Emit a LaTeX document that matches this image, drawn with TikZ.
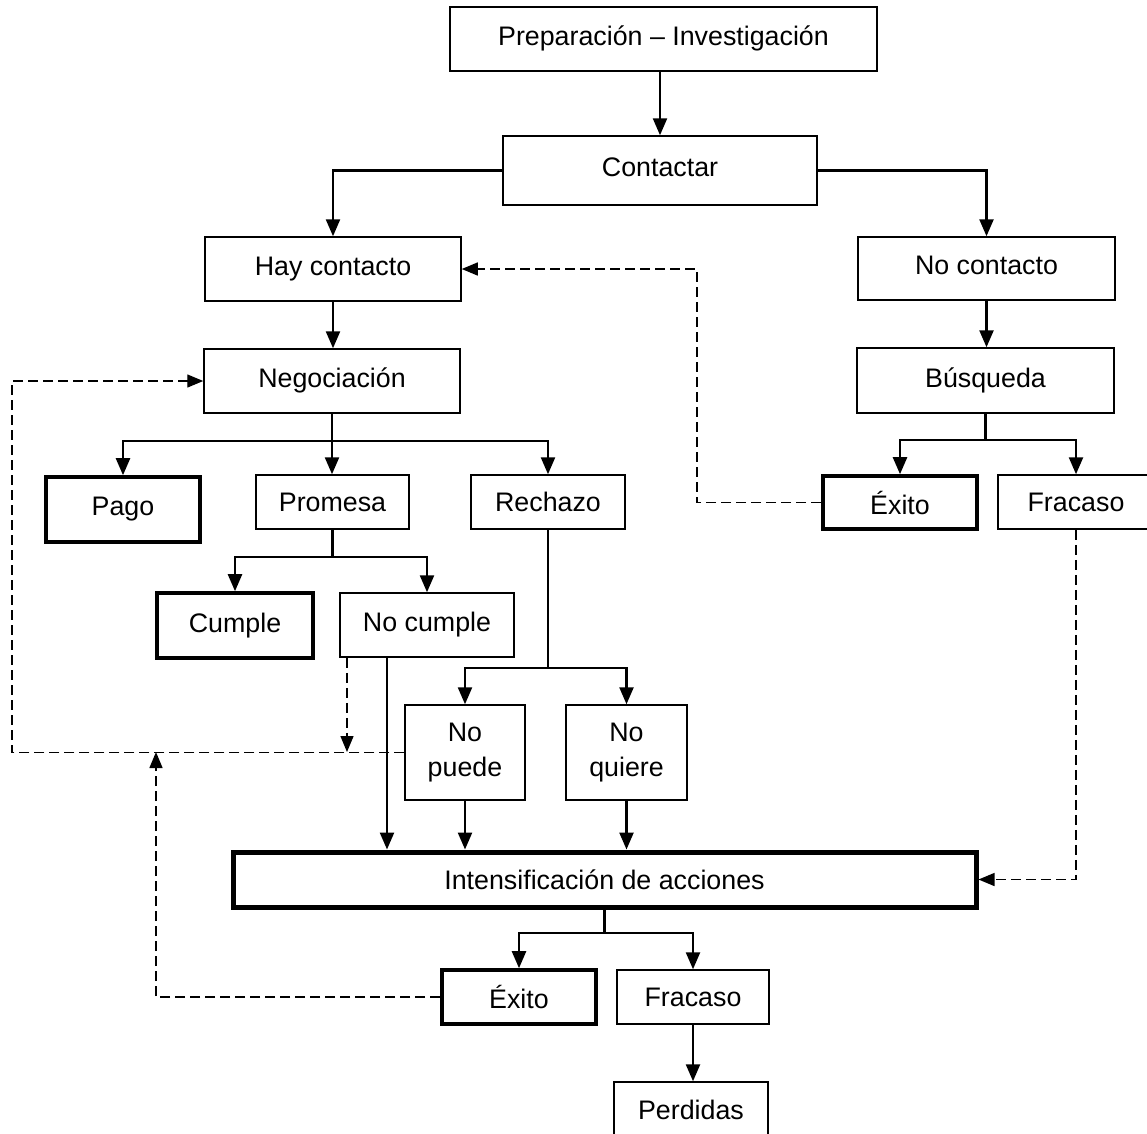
\documentclass[tikz,border=0pt]{standalone}
\usepackage{fontspec}
\setmainfont{Liberation Sans}
\usetikzlibrary{arrows.meta}
\newcommand{\up}[1]{\raisebox{6pt}{#1}}
\begin{document}
\begin{tikzpicture}[x=1pt,y={(0,-1pt)},
  box/.style={draw, line width=1.5pt, inner sep=0pt, align=center,
    font=\fontsize{26.8}{35}\selectfont},
  thickbox/.style={box, line width=3.6pt},
  heavybox/.style={box, line width=5pt},
  arr/.style={line width=2.4pt, -{Triangle[length=17pt,width=14pt]}},
  ln/.style={line width=2.4pt},
  dasharr/.style={line width=1.4pt, dash pattern=on 10pt off 5pt, -{Triangle[length=16pt,width=13pt]}},
  dln/.style={line width=1.4pt, dash pattern=on 10pt off 5pt}]
\useasboundingbox (0,0) rectangle (1147,1133);
% nodes
\node[box, minimum width=427pt, minimum height=64pt] (prep) at (663.5,39) {\up{Preparación – Investigación}};
\node[box, minimum width=314pt, minimum height=69pt] (cont) at (660,170.5) {\up{Contactar}};
\node[box, minimum width=256pt, minimum height=64pt] (hay) at (333,269) {\up{Hay contacto}};
\node[box, minimum width=257pt, minimum height=63pt] (noc) at (986.5,268.5) {\up{No contacto}};
\node[box, minimum width=256pt, minimum height=64pt] (nego) at (332,381) {\up{Negociación}};
\node[box, minimum width=257pt, minimum height=65pt] (busq) at (985.5,380.5) {\up{Búsqueda}};
\node[thickbox, minimum width=154pt, minimum height=65pt] (pago) at (123,509.5) {\raisebox{3pt}{Pago}};
\node[box, minimum width=153pt, minimum height=54pt] (prom) at (332.5,502) {Promesa};
\node[box, minimum width=154pt, minimum height=54pt] (rech) at (548,502) {Rechazo};
\node[thickbox, minimum width=154pt, minimum height=53pt] (exa) at (900,502.5) {Éxito};
\node[box, minimum width=156pt, minimum height=54pt] (fra) at (1076,502) {Fracaso};
\node[thickbox, minimum width=156pt, minimum height=65pt] (cump) at (235,625.5) {\raisebox{4pt}{Cumple}};
\node[box, minimum width=174pt, minimum height=64pt] (nocu) at (427,625) {\up{No cumple}};
\node[box, minimum width=120pt, minimum height=95pt] (nop) at (465,752.5) {No\\puede};
\node[box, minimum width=121pt, minimum height=95pt] (noq) at (626.5,752.5) {No\\quiere};
\node[heavybox, minimum width=743pt, minimum height=55pt] (int) at (604.5,879.5) {Intensificación de acciones};
\node[thickbox, minimum width=154pt, minimum height=54pt] (exb) at (519,997) {Éxito};
\node[box, minimum width=152pt, minimum height=54pt] (frb) at (693,997) {Fracaso};
\node[box, minimum width=154pt, minimum height=56pt] (perd) at (691,1110) {Perdidas};
% helper coordinates
\coordinate (b1) at (332,441);
\coordinate (b2) at (985.5,440);
\coordinate (b3) at (332.5,557);
\coordinate (b4) at (548,668);
\coordinate (b5) at (604.5,933);
\coordinate (ncx) at (387,700);
\coordinate (ncd) at (347,700);
\coordinate (dj) at (347,752);
\coordinate (dx1) at (697,400);
\coordinate (dx2) at (12,600);
\coordinate (dx3) at (156,752);
% solid connectors
\draw[arr] (prep.south -| cont.north) -- (cont.north);
\draw[arr] (cont.west) -| (hay.north);
\draw[arr] (cont.east) -| (noc.north);
\draw[arr] (hay.south) -- (hay.south |- nego.north);
\draw[arr] (noc.south) -- (noc.south |- busq.north);
\draw[arr] (nego.south) -- (nego.south |- prom.north);
\draw[arr] (b1) -| (pago.north);
\draw[arr] (b1) -| (rech.north);
\draw[ln] (busq.south) -- (b2);
\draw[arr] (b2) -| (exa.north);
\draw[arr] (b2) -| (fra.north);
\draw[ln] (prom.south) -- (b3);
\draw[arr] (b3) -| (cump.north);
\draw[arr] (b3) -| (nocu.north);
\draw[ln] (rech.south) -- (b4);
\draw[arr] (b4) -| (nop.north);
\draw[arr] (b4) -| (noq.north);
\draw[arr] (nocu.south -| ncx) -- (int.north -| ncx);
\draw[arr] (nop.south) -- (nop.south |- int.north);
\draw[arr] (noq.south) -- (noq.south |- int.north);
\draw[ln] (int.south) -- (b5);
\draw[arr] (b5) -| (exb.north);
\draw[arr] (b5) -| (frb.north);
\draw[arr] (frb.south) -- (frb.south |- perd.north);
% dashed connectors
\draw[dasharr] (exa.west) -- (exa.west -| dx1) |- (hay.east);
\draw[dasharr] (fra.south) |- (int.east);
\draw[dasharr] (nocu.south -| ncd) -- (dj);
\draw[dasharr] (nop.west) -- (nop.west -| dx2) |- (nego.west);
\draw[dasharr] (exb.west) -| (dx3);
\end{tikzpicture}
\end{document}
